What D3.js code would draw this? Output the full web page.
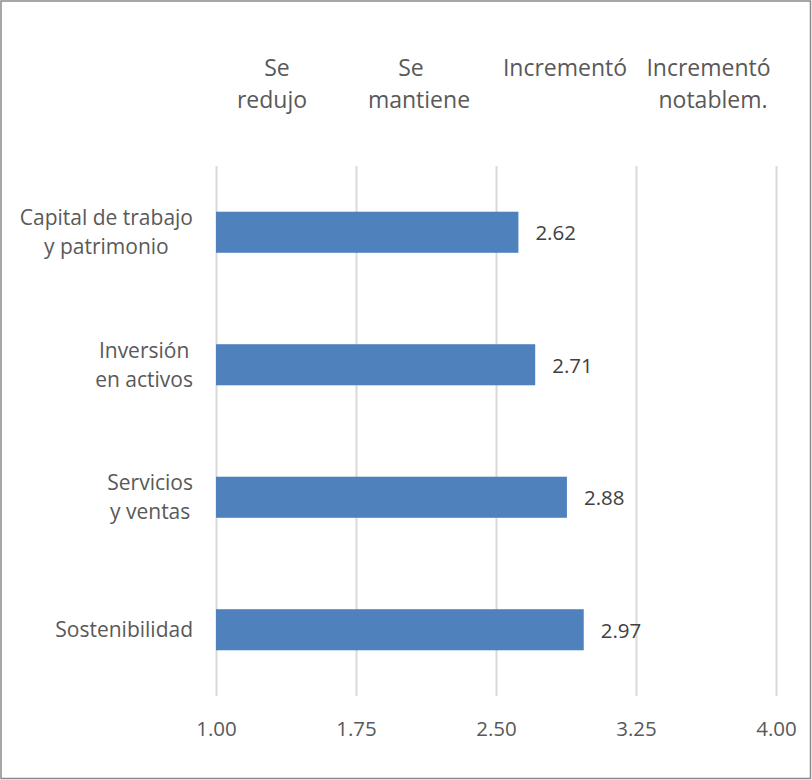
<!DOCTYPE html>
<html>
<head>
<meta charset="utf-8">
<script src="https://cdn.jsdelivr.net/npm/d3@7"></script>
<style>
  html, body { margin: 0; padding: 0; background: #fff; }
  svg { display: block; font-family: "Open Sans", sans-serif; }
</style>
</head>
<body>
<svg id="chart" width="812" height="780"></svg>
<script>
// Categories (top to bottom), each split into display lines
const categories = [
  ["Capital de trabajo", "y patrimonio"],
  ["Inversión", "en activos"],
  ["Servicios", "y ventas"],
  ["Sostenibilidad"]
];
const values = [2.62, 2.71, 2.88, 2.97];
const tickValues = [1.00, 1.75, 2.50, 3.25, 4.00];
// Scale descriptors shown above the plot, between consecutive ticks
const scaleLabels = [
  ["Se", "redujo"],
  ["Se", "mantiene"],
  ["Incrementó"],
  ["Incrementó", "notablem."]
];

// Layout: horizontal nudge (px) of each descriptor line from its slot centre
const scaleLabelNudge = [
  [-9, -14],
  [-15, -7],
  [-1],
  [2.5, 7]
];

const svg = d3.select("#chart");
const W = 812, H = 780;
const plot = { left: 216, right: 776, top: 166, bottom: 696 };
const fontSize = 21;
const headerSize = 23;

// Outer frame
svg.append("rect")
  .attr("x", 1).attr("y", 1).attr("width", W - 2.5).attr("height", H - 2.5)
  .attr("fill", "#fff").attr("stroke", "#898989").attr("stroke-width", 1.5);

const x = d3.scaleLinear().domain([1, 4]).range([plot.left, plot.right]);
const y = d3.scaleBand().domain(d3.range(values.length))
  .range([plot.top, plot.bottom]).paddingInner(0.69).paddingOuter(0.345);

// Vertical gridlines + bottom tick labels
const xAxis = d3.axisBottom(x).tickValues(tickValues).tickFormat(d3.format(".2f"))
  .tickSize(-(plot.bottom - plot.top)).tickPadding(25);
const gx = svg.append("g").attr("transform", `translate(0,${plot.bottom})`).call(xAxis);
gx.select(".domain").remove();
gx.selectAll(".tick line").attr("stroke", "#d9d9d9").attr("stroke-width", 2);
gx.selectAll(".tick text").attr("fill", "#595959").attr("font-size", 20.5)
  .attr("font-family", "Open Sans, sans-serif");

// Bars
svg.append("g").selectAll("rect").data(values).join("rect")
  .attr("x", x(1))
  .attr("y", (d, i) => y(i))
  .attr("width", d => x(d) - x(1))
  .attr("height", y.bandwidth())
  .attr("fill", "#4f81bd");

// Value labels
svg.append("g").selectAll("text").data(values).join("text")
  .attr("x", d => x(d) + 17)
  .attr("y", (d, i) => y(i) + y.bandwidth() / 2 + 1)
  .attr("dy", "0.35em")
  .attr("fill", "#404040").attr("font-size", 20.5)
  .text(d => d3.format(".2f")(d));

// Category labels: each block right-aligned, lines centered within block
const lineH = 29;
const catG = svg.append("g");
categories.forEach((lines, i) => {
  const cy = y(i) + y.bandwidth() / 2;
  const block = catG.append("g");
  const texts = lines.map((ln, k) => block.append("text")
    .attr("y", cy + (k - (lines.length - 1) / 2) * lineH)
    .attr("dy", "0.35em")
    .attr("fill", "#595959").attr("font-size", fontSize)
    .attr("text-anchor", "middle")
    .text(ln));
  const maxW = d3.max(texts, t => t.node().getComputedTextLength());
  texts.forEach(t => t.attr("x", 193 - maxW / 2));
});

// Scale descriptors above the plot
const midpoints = d3.pairs(tickValues).map(([a, b]) => (a + b) / 2);
const topLineH = 32;
scaleLabels.forEach((lines, i) => {
  lines.forEach((ln, k) => {
    svg.append("text")
      .attr("x", x(midpoints[i]) + scaleLabelNudge[i][k])
      .attr("y", 68 + k * topLineH)
      .attr("dy", "0.35em")
      .attr("text-anchor", "middle")
      .attr("fill", "#595959").attr("font-size", headerSize)
      .text(ln);
  });
});
</script>
</body>
</html>
